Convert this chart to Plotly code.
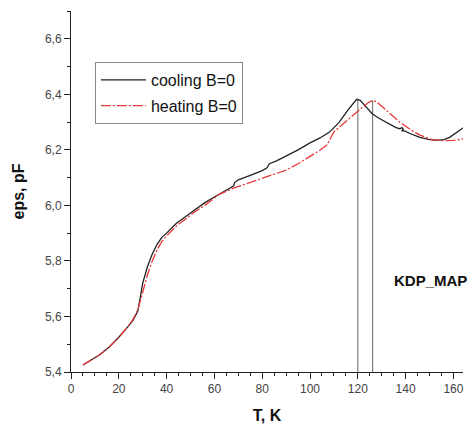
import plotly.graph_objects as go

# cooling B=0 (black)
T_cool = [5, 8, 12, 16, 20, 24, 26, 28, 30, 32, 34, 36, 38, 40, 44, 48, 52, 56, 60, 64,
          68, 68.5, 70, 75, 80, 82, 83, 86, 90, 95, 100, 104, 108, 112, 116, 118, 119.5,
          121, 123.7, 126, 129, 132, 136, 137.5, 138.5, 139, 138.3, 139.5, 142, 146, 150,
          153, 156, 158.4, 161, 164.6]
E_cool = [5.425, 5.44, 5.462, 5.49, 5.525, 5.565, 5.587, 5.62, 5.72, 5.78, 5.825, 5.86,
          5.885, 5.9, 5.935, 5.96, 5.985, 6.01, 6.03, 6.05, 6.07, 6.082, 6.092, 6.108,
          6.125, 6.135, 6.15, 6.16, 6.177, 6.2, 6.225, 6.242, 6.263, 6.297, 6.345, 6.368,
          6.382, 6.378, 6.35, 6.33, 6.313, 6.298, 6.28, 6.276, 6.28, 6.274, 6.268, 6.268,
          6.258, 6.245, 6.237, 6.234, 6.237, 6.245, 6.26, 6.282]

# heating B=0 (red)
T_heat = [5, 8, 12, 16, 20, 24, 26, 28, 30, 32, 34, 36, 38, 40, 44, 48, 52, 56, 60, 62,
          68, 76, 80, 85, 90, 95, 100, 104, 107, 108, 109, 110, 114, 118, 122, 124, 126.2,
          128, 130.4, 134, 137.5, 142, 146, 151, 156, 160, 164.6]
E_heat = [5.425, 5.44, 5.462, 5.49, 5.525, 5.565, 5.59, 5.625, 5.69, 5.75, 5.8, 5.84,
          5.87, 5.89, 5.925, 5.952, 5.978, 6.0, 6.025, 6.04, 6.062, 6.085, 6.097, 6.11,
          6.127, 6.15, 6.175, 6.198, 6.217, 6.235, 6.253, 6.265, 6.295, 6.324, 6.354, 6.368,
          6.378, 6.372, 6.354, 6.325, 6.3, 6.273, 6.253, 6.237, 6.233, 6.234, 6.24]

# transition markers
T_marks = [120, 126.2]
E_marks_top = [6.382, 6.378]

font = "Arial, Liberation Sans, sans-serif"

fig = go.Figure()
for t, e in zip(T_marks, E_marks_top):
    fig.add_trace(go.Scatter(x=[t, t], y=[5.4, e], mode="lines",
                             line=dict(color="#666666", width=1), showlegend=False,
                             hoverinfo="skip"))

fig.add_trace(go.Scatter(x=T_cool, y=E_cool, mode="lines", name="cooling B=0",
                         line=dict(color="#222222", width=1.3), legendgroup="a"))
fig.add_trace(go.Scatter(x=T_heat, y=E_heat, mode="lines", name="heating B=0",
                         line=dict(color="#e8383a", width=1.3, dash="10px,2px,2px,2px"),
                         legendgroup="b"))

fig.update_layout(
    width=468, height=433,
    margin=dict(l=71, r=5, t=11, b=61),
    paper_bgcolor="white", plot_bgcolor="white",
    separators=", ",
    font=dict(family=font, color="#333333", size=12),
    showlegend=True,
    legend=dict(x=0.061, y=0.859, xanchor="left", yanchor="top",
                bordercolor="#888888", borderwidth=1, bgcolor="white",
                font=dict(size=16, color="#111111", family=font),
                itemwidth=45,
                tracegroupgap=2, traceorder="grouped"),
    xaxis=dict(range=[0, 164], showgrid=False, zeroline=False,
               showline=True, linecolor="#222222", linewidth=1,
               ticks="outside", ticklen=6, tickcolor="#222222",
               dtick=20, tick0=0,
               minor=dict(dtick=5, ticks="outside", ticklen=3, tickcolor="#222222"),
               tickfont=dict(size=12, color="#444444"),
               title=dict(text="<b>T, K</b>", font=dict(size=16, color="#111111"), standoff=14)),
    yaxis=dict(range=[5.4, 6.7], showgrid=False, zeroline=False,
               showline=True, linecolor="#222222", linewidth=1,
               ticks="outside", ticklen=6, tickcolor="#222222",
               dtick=0.2, tick0=5.4, tickformat=".1f",
               minor=dict(dtick=0.1, ticks="outside", ticklen=3, tickcolor="#222222"),
               tickfont=dict(size=12, color="#444444"),
               title=dict(text="<b>eps, pF</b>", font=dict(size=16, color="#111111"), standoff=16)),
    annotations=[dict(text="<b>KDP_MAP</b>", x=(392 - 71) / 392, y=1 - (280 - 11) / 361,
                      xref="paper", yref="paper", xanchor="left", yanchor="middle",
                      showarrow=False, font=dict(size=15, color="#111111"))],
)

fig.write_html("out.html")
